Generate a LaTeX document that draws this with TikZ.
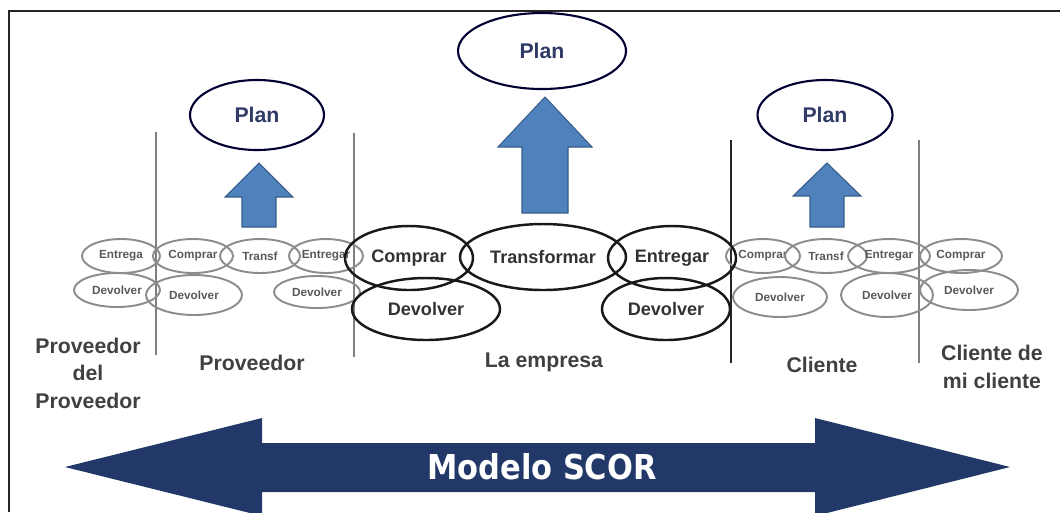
\documentclass[tikz,border=0pt]{standalone}
\usepackage{fontspec}
\setmainfont{Liberation Sans}
\newfontfamily\scorfont{DejaVu Sans}
\usetikzlibrary{shapes.geometric}
\definecolor{planblue}{RGB}{79,129,189}
\definecolor{planedge}{RGB}{56,93,138}
\definecolor{scornavy}{RGB}{33,56,104}
\definecolor{plantext}{RGB}{47,59,102}
\definecolor{labelgray}{RGB}{64,64,64}
\definecolor{ovalgray}{RGB}{140,140,140}
\tikzset{
	ovalsize/.style 2 args={minimum width=#1*0.02cm,minimum height=#2*0.02cm},
	smalloval/.style={ellipse,draw=ovalgray,line width=1.1pt,inner sep=0pt,text=black!65,font=\fontsize{6.7}{8}\selectfont\bfseries},
	bigoval/.style={ellipse,draw=black!90,line width=1.4pt,inner sep=0pt,text=black!80,font=\fontsize{10.3}{12}\selectfont\bfseries},
	planoval/.style={ellipse,draw=black!80!blue,line width=1.2pt,inner sep=0pt,text=plantext,font=\fontsize{12.1}{14}\selectfont\bfseries},
	partner/.style={align=center,text=labelgray,font=\fontsize{12.1}{15.7}\selectfont\bfseries},
	divider/.style={draw=black!50,line width=0.8pt}
}
\begin{document}
\begin{tikzpicture}[x=0.02cm,y=-0.02cm]
\useasboundingbox (0,0) rectangle (1060,512);
\clip (0,0) rectangle (1060,512);
\draw[line width=1.1pt,black!85] (9,512) -- (9,11) -- (1060,11);

\foreach \x/\a/\b in {156/132/355,354/133/357,919/140/363}
	\draw[divider] (\x,\a) -- (\x,\b);
\draw[divider,draw=black!85] (731,140) -- (731,363);

\foreach \cx/\ty/\hw/\hy/\sw/\by in {259/163/34/197/17/227,545/97/47/147/23/213,827/163/34/196/17/227}
	\filldraw[fill=planblue,draw=planedge,line width=0.6pt] (\cx,\ty) -- (\cx+\hw,\hy) -- (\cx+\sw,\hy) -- (\cx+\sw,\by) -- (\cx-\sw,\by) -- (\cx-\sw,\hy) -- (\cx-\hw,\hy) -- cycle;

\node[planoval,ovalsize={134}{70}] (planp) at (257,115) {Plan};
\node[planoval,ovalsize={168}{76}] (plane) at (542,51) {Plan};
\node[planoval,ovalsize={135}{70}] (planc) at (825,115) {Plan};

\foreach \nm/\x/\y/\w/\h/\t in {ppe/121/256/78/34/Entrega,pc/193/256/80/34/Comprar,pt/260/256/80/34/Transf,pe/326/256/74/34/Entregar,
	ppd/117/290/86/34/Devolver,pd/194/295/96/40/Devolver,pdd/317/292/86/32/Devolver,
	cc/763/256/74/34/Comprar,ct/826/256/82/34/Transf,ce/889/256/82/34/Entregar,ccc/961/256/82/34/Comprar,
	cd/780/297/94/40/Devolver,cdd/887/295/92/44/Devolver,ccd/969/290/98/40/Devolver}
	\node[smalloval,ovalsize={\w}{\h}] (\nm) at (\x,\y) {\t};

\node[bigoval,ovalsize={128}{64}] (ec) at (409,258) {Comprar};
\node[bigoval,ovalsize={166}{66}] (et) at (543,257) {Transformar};
\node[bigoval,ovalsize={128}{64}] (ee) at (672,258) {Entregar};
\node[bigoval,ovalsize={148}{62}] (ed) at (426,309) {Devolver};
\node[bigoval,ovalsize={128}{62}] (edd) at (666,309) {Devolver};

\node[partner] (provprov) at (88,373) {Proveedor\\del\\Proveedor};
\node[partner] (prov) at (252,363) {Proveedor};
\node[partner] (empresa) at (544,362) {La empresa};
\node[partner] (cli) at (822,365) {Cliente};
\node[partner] (clicli) at (992,367) {Cliente de\\mi cliente};

\fill[scornavy] (65,467) -- (262,418) -- (262,443) -- (815,443) -- (815,418) -- (1010,467) -- (815,516) -- (815,492) -- (262,492) -- (262,516) -- cycle;
\node[text=white,font=\scorfont\bfseries\fontsize{19.5}{22}\selectfont] (scor) at (542,467) {\scalebox{0.89}[1]{Modelo SCOR}};
\end{tikzpicture}
\end{document}
